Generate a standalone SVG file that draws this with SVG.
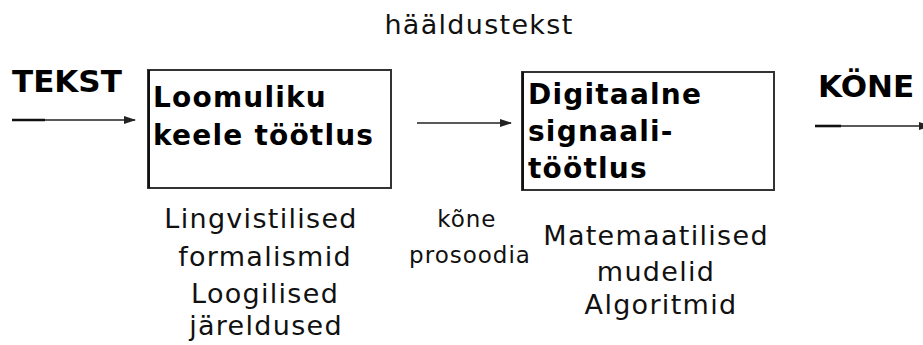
<svg xmlns="http://www.w3.org/2000/svg" width="923" height="345" viewBox="0 0 923 345">
  <defs>
    <marker id="arrow" markerWidth="12" markerHeight="8" refX="11" refY="4" orient="auto" markerUnits="userSpaceOnUse">
      <path d="M0,0 L12,4 L0,8 Z" fill="#222"/>
    </marker>
    <style>
      .lbl { font-family: "DejaVu Sans", Verdana, sans-serif; font-size: 27px; fill: #111; letter-spacing: 1.3px; }
      .small { font-size: 23px; letter-spacing: 1px; }
      .bold { font-family: "DejaVu Sans", Verdana, sans-serif; font-weight: bold; font-size: 28px; fill: #000; letter-spacing: 1.2px; }
      .head { font-family: "DejaVu Sans", Verdana, sans-serif; font-weight: bold; font-size: 31px; fill: #000; }
      .box { fill: #fff; stroke: #333; stroke-width: 2; }
      .edge { stroke: #222; stroke-width: 1.6; fill: none; }
      .lead { stroke: #111; stroke-width: 2.6; }
    </style>
  </defs>
  <rect width="923" height="345" fill="#fff"/>

  <!-- title above the chain -->
  <text class="lbl" x="479" y="34" text-anchor="middle">hääldustekst</text>

  <!-- input / output labels -->
  <g id="input">
    <text class="head" x="12" y="92">TEKST</text>
  </g>
  <g id="output">
    <text class="head" x="818" y="97">KÖNE</text>
  </g>

  <!-- connectors -->
  <g id="connectors">
    <line class="edge" x1="12" y1="120" x2="135" y2="120" marker-end="url(#arrow)"/>
    <line class="lead" x1="12" y1="120" x2="45" y2="120"/>
    <line class="edge" x1="417" y1="123" x2="511" y2="123" marker-end="url(#arrow)"/>
    <line class="edge" x1="815" y1="126" x2="930" y2="126" marker-end="url(#arrow)"/>
    <line class="lead" x1="815" y1="126" x2="841" y2="126"/>
  </g>

  <!-- natural language processing stage -->
  <g id="nlp">
    <rect class="box" x="148" y="70" width="243" height="118"/>
    <line x1="149" y1="70" x2="149" y2="188" stroke="#111" stroke-width="2"/>
    <text class="bold" x="153" y="107">Loomuliku</text>
    <text class="bold" x="153" y="145">keele töötlus</text>
  </g>

  <!-- digital signal processing stage -->
  <g id="dsp">
    <rect class="box" x="522" y="72" width="252" height="118"/>
    <line x1="523" y1="72" x2="523" y2="190" stroke="#111" stroke-width="2"/>
    <text class="bold" x="528" y="104">Digitaalne</text>
    <text class="bold" x="528" y="141">signaali-</text>
    <text class="bold" x="528" y="178">töötlus</text>
  </g>

  <!-- notes under the stages -->
  <g id="nlp-notes">
    <text class="lbl" text-anchor="middle">
      <tspan x="266" y="228">Lingvistilised</tspan>
      <tspan x="270" y="266">formalismid</tspan>
      <tspan x="270" y="303">Loogilised</tspan>
      <tspan x="266" y="335">järeldused</tspan>
    </text>
  </g>
  <g id="prosody-notes">
    <text class="lbl small" text-anchor="middle">
      <tspan x="471" y="227">kõne</tspan>
      <tspan x="470" y="263">prosoodia</tspan>
    </text>
  </g>
  <g id="dsp-notes">
    <text class="lbl" text-anchor="middle">
      <tspan x="661" y="245">Matemaatilised</tspan>
      <tspan x="661" y="281">mudelid</tspan>
      <tspan x="661" y="314">Algoritmid</tspan>
    </text>
  </g>
</svg>
